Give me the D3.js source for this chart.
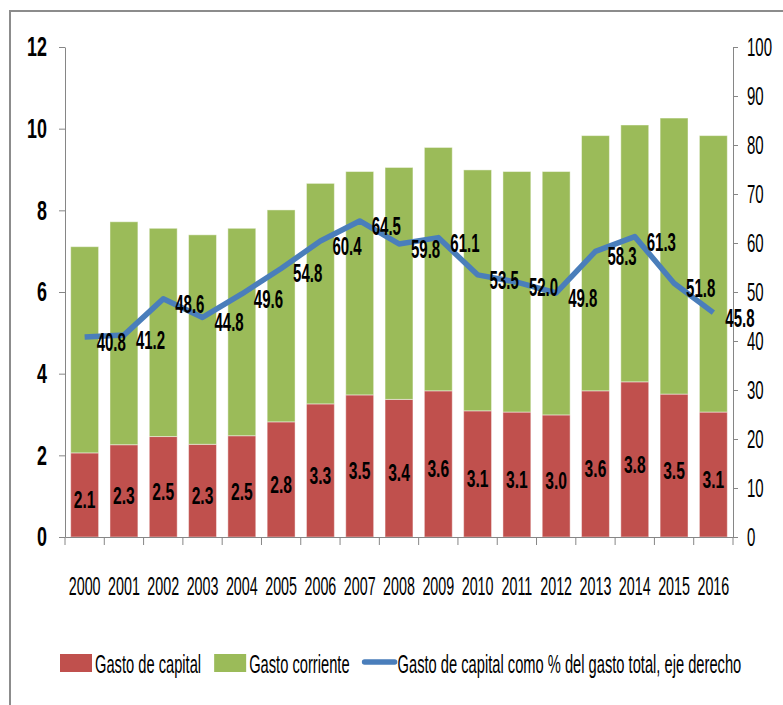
<!DOCTYPE html>
<html>
<head>
<meta charset="utf-8">
<script src="https://cdn.jsdelivr.net/npm/d3@7"></script>
<style>
  body { margin: 0; background: #fff; }
  text { font-family: "Liberation Sans", Arial, sans-serif; fill: #000; }
</style>
</head>
<body>
<script>
const years = ["2000","2001","2002","2003","2004","2005","2006","2007","2008","2009","2010","2011","2012","2013","2014","2015","2016"];
const capital = [2.06, 2.26, 2.46, 2.27, 2.48, 2.82, 3.26, 3.48, 3.37, 3.58, 3.09, 3.06, 2.99, 3.58, 3.80, 3.50, 3.06];
const corriente = [5.05, 5.46, 5.10, 5.13, 5.08, 5.19, 5.40, 5.47, 5.68, 5.96, 5.90, 5.89, 5.96, 6.25, 6.29, 6.76, 6.77];
const pct = [40.8, 41.2, 48.6, 44.8, 49.6, 54.8, 60.4, 64.5, 59.8, 61.1, 53.5, 52.0, 49.8, 58.3, 61.3, 51.8, 45.8];
const leftTicks = [0, 2, 4, 6, 8, 10, 12];
const rightTicks = [0, 10, 20, 30, 40, 50, 60, 70, 80, 90, 100];
const legendNames = ["Gasto de capital", "Gasto corriente", "Gasto de capital como % del gasto total, eje derecho"];

const w = 783, h = 705;
const red = "#c0504d", green = "#9bbb59", blue = "#4a7ebb", grey = "#868686";

const svg = d3.select("body").append("svg")
  .attr("width", w)
  .attr("height", h);

// squeeze text horizontally, the original font is very narrow
function squeeze(sel, f) {
  sel.each(function () {
    const t = d3.select(this);
    const x0 = +t.attr("x") || 0;
    t.attr("x", x0 / f).attr("transform", "scale(" + f + ",1)");
  });
}

svg.append("rect")
  .attr("x", 10).attr("y", 11)
  .attr("width", 800).attr("height", 720)
  .attr("fill", "none")
  .attr("stroke", "#8c8c8c")
  .attr("stroke-width", 2);

const x = d3.scaleBand()
  .domain(years)
  .range([65, 733])
  .paddingInner(0.29)
  .paddingOuter(0.145);

const y = d3.scaleLinear().domain([0, 12]).range([537, 47]);
const y2 = d3.scaleLinear().domain([0, 100]).range([537, 47]);

const data = years.map((yr, i) => ({ yr: yr, cap: capital[i], cor: corriente[i], p: pct[i] }));

// bars
svg.selectAll(".cap")
  .data(data)
  .enter()
  .append("rect")
  .attr("class", "cap")
  .attr("x", d => x(d.yr))
  .attr("width", x.bandwidth())
  .attr("y", d => y(d.cap))
  .attr("height", d => y(0) - y(d.cap))
  .attr("fill", red)
  .attr("stroke", "rgba(255,255,255,0.45)")
  .attr("stroke-width", 1);

svg.selectAll(".cor")
  .data(data)
  .enter()
  .append("rect")
  .attr("class", "cor")
  .attr("x", d => x(d.yr))
  .attr("width", x.bandwidth())
  .attr("y", d => y(d.cap + d.cor))
  .attr("height", d => y(d.cap) - y(d.cap + d.cor))
  .attr("fill", green)
  .attr("stroke", "rgba(255,255,255,0.45)")
  .attr("stroke-width", 1);

// x axis: labels centred, ticks between categories
const xAxis = svg.append("g")
  .attr("transform", "translate(0,537)")
  .call(d3.axisBottom(x).tickSize(0).tickPadding(40).tickSizeOuter(0));
xAxis.select(".domain").attr("stroke", grey);
xAxis.selectAll("text").style("font-size", "26px").call(squeeze, 0.55);

const step = x.step();
const bounds = years.map(yr => x(yr) - step * x.paddingInner() / 2).concat([x(years[years.length - 1]) + x.bandwidth() + step * x.paddingInner() / 2]);
svg.selectAll(".xt")
  .data(bounds)
  .enter()
  .append("line")
  .attr("x1", d => d).attr("x2", d => d)
  .attr("y1", 537).attr("y2", 545)
  .attr("stroke", grey);

// left axis
const yAxis = svg.append("g")
  .attr("transform", "translate(65,0)")
  .call(d3.axisLeft(y).tickValues(leftTicks).tickSize(6).tickPadding(12).tickSizeOuter(0));
yAxis.selectAll("path, line").attr("stroke", grey);
yAxis.selectAll("text").style("font-size", "28px").style("font-weight", "bold").call(squeeze, 0.64);

// right axis
const yAxis2 = svg.append("g")
  .attr("transform", "translate(733,0)")
  .call(d3.axisRight(y2).tickValues(rightTicks).tickSize(5).tickPadding(9).tickSizeOuter(0));
yAxis2.selectAll("path, line").attr("stroke", grey);
yAxis2.selectAll("text").style("font-size", "25px").call(squeeze, 0.6);

// line
const line = d3.line()
  .x(d => x(d.yr) + x.bandwidth() / 2)
  .y(d => y2(d.p));

svg.append("path")
  .datum(data)
  .attr("d", line)
  .attr("fill", "none")
  .attr("stroke", blue)
  .attr("stroke-width", 5.5)
  .attr("stroke-linejoin", "round");

// labels
svg.selectAll(".caplab")
  .data(data)
  .enter()
  .append("text")
  .attr("x", d => x(d.yr) + x.bandwidth() / 2)
  .attr("y", d => (y(d.cap) + y(0)) / 2 + 5)
  .attr("dy", "0.36em")
  .attr("text-anchor", "middle")
  .style("font-size", "23px")
  .style("font-weight", "bold")
  .text(d => d.cap.toFixed(1))
  .call(squeeze, 0.68);

svg.selectAll(".plab")
  .data(data)
  .enter()
  .append("text")
  .attr("x", d => x(d.yr) + x.bandwidth() / 2 + 12)
  .attr("y", d => y2(d.p) + 5)
  .attr("dy", "0.36em")
  .style("font-size", "25px")
  .style("font-weight", "bold")
  .text(d => d.p.toFixed(1))
  .call(squeeze, 0.6);

// legend
const leg = svg.append("g").attr("transform", "translate(60,663)");
let lx = 0;
legendNames.forEach((name, i) => {
  if (i < 2) {
    leg.append("rect")
      .attr("x", lx).attr("y", -9)
      .attr("width", 32).attr("height", 18)
      .attr("fill", i == 0 ? red : green);
  } else {
    leg.append("line")
      .attr("x1", lx + 2).attr("x2", lx + 32)
      .attr("y1", -1).attr("y2", -1)
      .attr("stroke", blue)
      .attr("stroke-width", 5.5)
      .attr("stroke-linecap", "round");
  }
  const t = leg.append("text")
    .attr("x", lx + 35)
    .attr("y", 10)
    .style("font-size", "26px")
    .text(name);
  const tw = t.node().getComputedTextLength() * 0.565;
  t.call(squeeze, 0.565);
  lx = lx + 35 + tw + 13;
});
</script>
</body>
</html>
